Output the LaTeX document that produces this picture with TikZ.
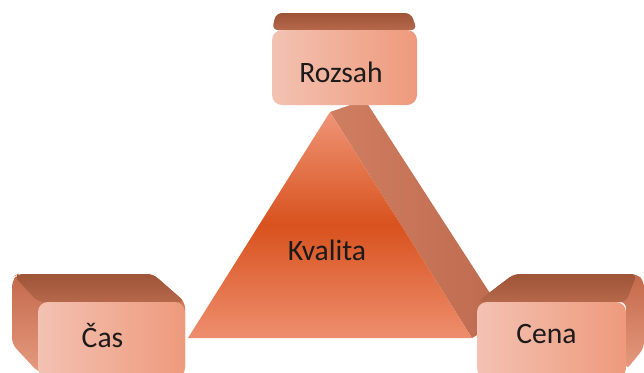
\documentclass[tikz,border=0pt]{standalone}
\usepackage{fontspec}
\setmainfont{Carlito}
\definecolor{boxL}{HTML}{F3C2B2}
\definecolor{boxM}{HTML}{F8DCD2}
\definecolor{boxR}{HTML}{EE9A7C}
\definecolor{topdark}{HTML}{9E5437}
\definecolor{toplight}{HTML}{B6684B}
\definecolor{sidetop}{HTML}{C4694B}
\definecolor{sidebot}{HTML}{E59A7F}
\definecolor{trtop}{HTML}{EF9577}
\definecolor{trmid}{HTML}{D8521E}
\definecolor{trbot}{HTML}{EE8E6E}
\definecolor{trsideA}{HTML}{D07E62}
\definecolor{trsideB}{HTML}{BD6A4E}
\definecolor{ink}{HTML}{1C1A1A}
\begin{document}
\begin{tikzpicture}[x=0.5pt,y=-0.5pt,
  lbl/.style={font=\fontsize{14.8}{17}\selectfont, text=ink, anchor=base, inner sep=0pt},
  frontface/.style={rounded corners=5pt, left color=boxL, middle color=boxM, right color=boxR},
  topface/.style={top color=topdark, bottom color=toplight},
  sideface/.style={top color=sidetop, bottom color=sidebot},
]
\useasboundingbox (0,0) rectangle (644,372);
% triangle (Kvalita)
\shade[left color=trsideA, right color=trsideB] (330,112) -- (365,100) -- (506,318) -- (472,338) -- cycle;
\shade[top color=trtop, bottom color=trbot, middle color=trmid] (330,112) -- (472,338) -- (188,338) -- cycle;
% Rozsah box
\shade[topface, rounded corners=3pt] (272,30) -- (276,13) -- (411,13) -- (417,30) -- cycle;
\shade[frontface] (272,30) rectangle (417,105);
% Cas box
\shade[sideface, rounded corners=3pt] (12,281) -- (18,274) -- (153,274) -- (185,302) -- (185,372) -- (38,372) -- (12,344) -- cycle;
\shade[topface, rounded corners=3pt] (14,276) -- (18,274) -- (153,274) -- (185,302) -- (38,302) -- cycle;
\shade[frontface] (38,302) rectangle (185,378);
% Cena box
\shade[sideface, rounded corners=3pt] (477,302) -- (514,274) -- (637,274) -- (644,281) -- (644,348) -- (626,370) -- (626,302) -- cycle;
\shade[topface, rounded corners=3pt] (477,302) -- (514,274) -- (637,274) -- (626,302) -- cycle;
\shade[frontface] (477,302) rectangle (626,378);
% labels
\node[lbl] (rozsah) at (341,82) {Rozsah};
\node[lbl] (cas) at (102.5,347) {Čas};
\node[lbl] (cena) at (546.5,343) {Cena};
\node[lbl] (kvalita) at (327,260) {Kvalita};
\end{tikzpicture}
\end{document}
